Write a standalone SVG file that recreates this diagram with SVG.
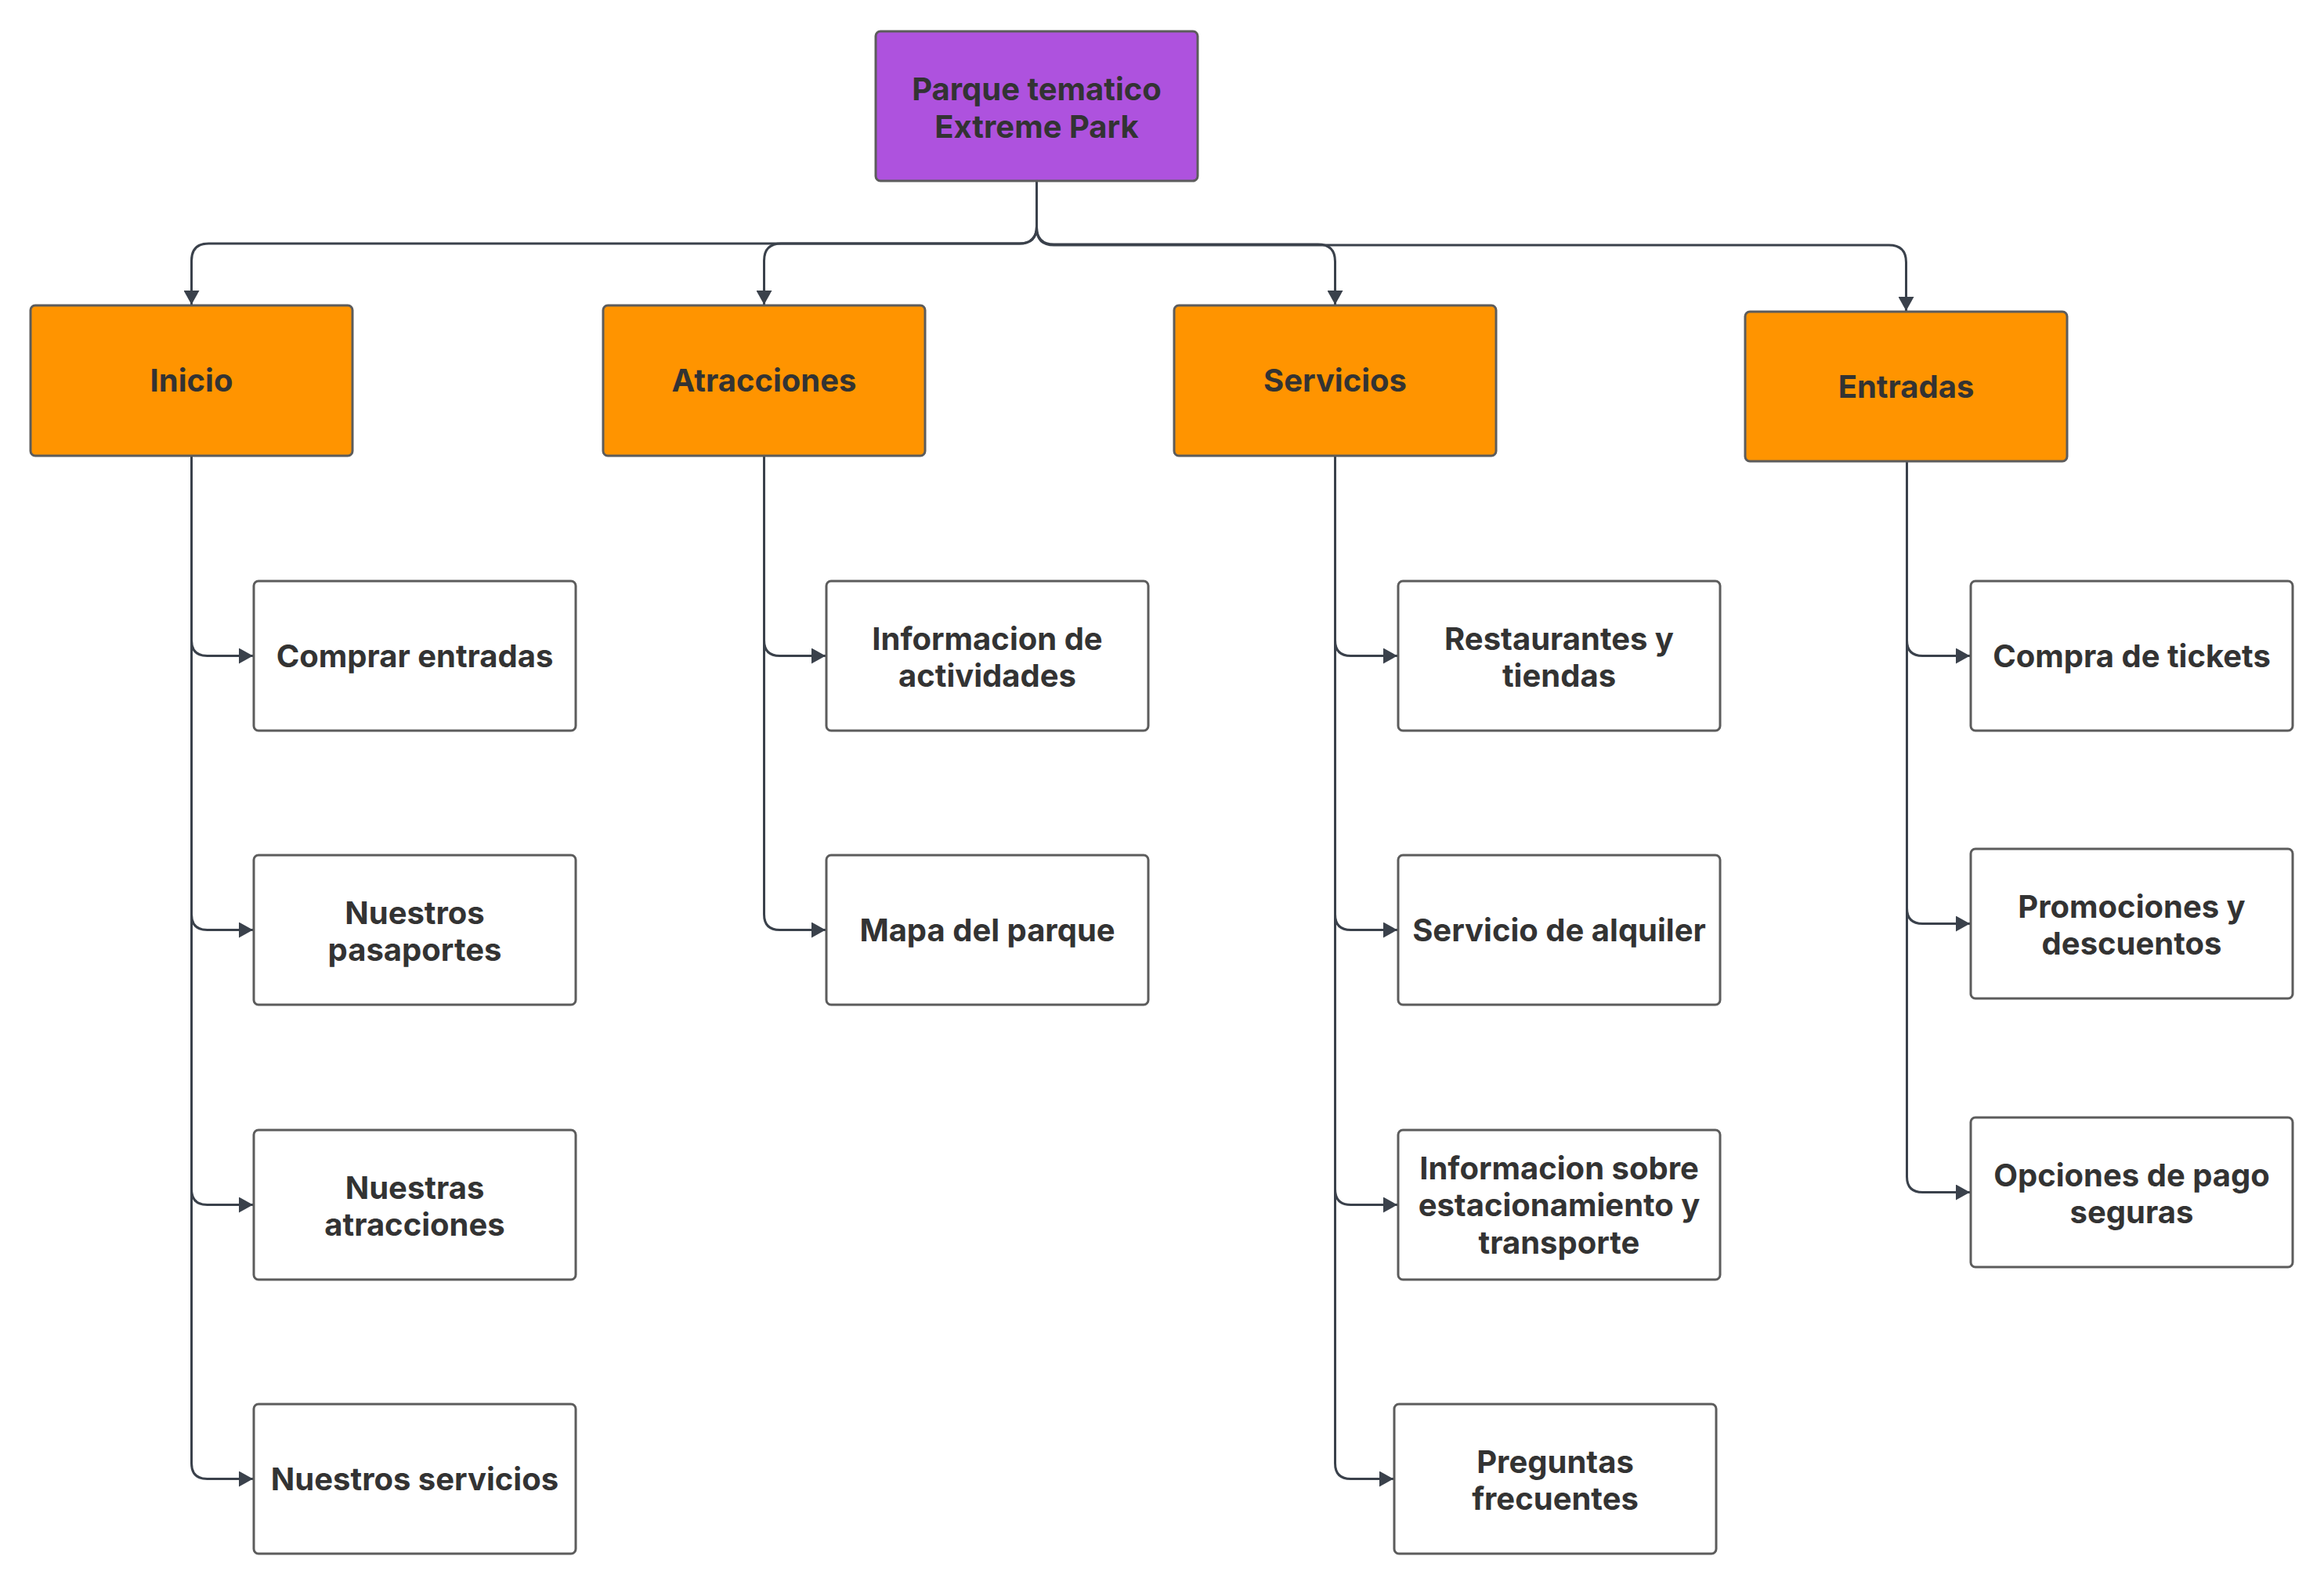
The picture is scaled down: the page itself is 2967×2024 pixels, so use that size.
<svg xmlns="http://www.w3.org/2000/svg" width="2967" height="2024" viewBox="0 0 2967 2024">
<style>
.box{stroke:#5c5c5c;stroke-width:3}
.root{fill:#ae52de}
.l1{fill:#ff9400}
.leaf{fill:#ffffff}
.t{font-family:Inter,"Liberation Sans",sans-serif;font-weight:700;font-size:40px;fill:#333333;text-anchor:middle}
.c{fill:none;stroke:#3a414b;stroke-width:3}
</style>
<defs>
<marker id="ah" markerUnits="userSpaceOnUse" markerWidth="20" markerHeight="20" refX="18" refY="10" orient="auto" viewBox="0 0 20 20">
<path d="M0,0 L18,10 L0,20 Z" fill="#3a414b"/>
</marker>
</defs>
<rect width="2967" height="2024" fill="#ffffff"/>
<g id="connectors">
<path class="c" marker-end="url(#ah)" d="M1323.5 231 V289 Q1323.5 311 1301.5 311 H266.5 Q244.5 311 244.5 333 V389"/>
<path class="c" marker-end="url(#ah)" d="M1323.5 231 V289 Q1323.5 311 1301.5 311 H997.5 Q975.5 311 975.5 333 V389"/>
<path class="c" marker-end="url(#ah)" d="M1323.5 231 V290 Q1323.5 312 1345.5 312 H1682.5 Q1704.5 312 1704.5 334 V389"/>
<path class="c" marker-end="url(#ah)" d="M1323.5 231 V291 Q1323.5 313 1345.5 313 H2411.5 Q2433.5 313 2433.5 335 V397"/>
<path class="c" marker-end="url(#ah)" d="M244.5 582 V817.5 Q244.5 837.5 264.5 837.5 H323"/>
<path class="c" marker-end="url(#ah)" d="M244.5 582 V1167.5 Q244.5 1187.5 264.5 1187.5 H323"/>
<path class="c" marker-end="url(#ah)" d="M244.5 582 V1518.5 Q244.5 1538.5 264.5 1538.5 H323"/>
<path class="c" marker-end="url(#ah)" d="M244.5 582 V1868.5 Q244.5 1888.5 264.5 1888.5 H323"/>
<path class="c" marker-end="url(#ah)" d="M975.5 582 V817.5 Q975.5 837.5 995.5 837.5 H1054"/>
<path class="c" marker-end="url(#ah)" d="M975.5 582 V1167.5 Q975.5 1187.5 995.5 1187.5 H1054"/>
<path class="c" marker-end="url(#ah)" d="M1704.5 582 V817.5 Q1704.5 837.5 1724.5 837.5 H1784"/>
<path class="c" marker-end="url(#ah)" d="M1704.5 582 V1167.5 Q1704.5 1187.5 1724.5 1187.5 H1784"/>
<path class="c" marker-end="url(#ah)" d="M1704.5 582 V1518.5 Q1704.5 1538.5 1724.5 1538.5 H1784"/>
<path class="c" marker-end="url(#ah)" d="M1704.5 582 V1868.5 Q1704.5 1888.5 1724.5 1888.5 H1779"/>
<path class="c" marker-end="url(#ah)" d="M2434.5 589 V817.5 Q2434.5 837.5 2454.5 837.5 H2515"/>
<path class="c" marker-end="url(#ah)" d="M2434.5 589 V1159.5 Q2434.5 1179.5 2454.5 1179.5 H2515"/>
<path class="c" marker-end="url(#ah)" d="M2434.5 589 V1502.5 Q2434.5 1522.5 2454.5 1522.5 H2515"/>
</g>
<g id="root"><rect class="box root" x="1118" y="40" width="411" height="191" rx="6"/><text class="t" x="1323.5" y="128">Parque tematico</text><text class="t" x="1323.5" y="176">Extreme Park</text></g>
<g id="inicio"><rect class="box l1" x="39" y="390" width="411" height="192" rx="6"/><text class="t" x="244.5" y="500">Inicio</text></g>
<g id="atracciones"><rect class="box l1" x="770" y="390" width="411" height="192" rx="6"/><text class="t" x="975.5" y="500">Atracciones</text></g>
<g id="servicios"><rect class="box l1" x="1499" y="390" width="411" height="192" rx="6"/><text class="t" x="1704.5" y="500">Servicios</text></g>
<g id="entradas"><rect class="box l1" x="2228" y="398" width="411" height="191" rx="6"/><text class="t" x="2433.5" y="507.5">Entradas</text></g>
<g id="comprar-entradas"><rect class="box leaf" x="324" y="742" width="411" height="191" rx="6"/><text class="t" x="529.5" y="851.5">Comprar entradas</text></g>
<g id="nuestros-pasaportes"><rect class="box leaf" x="324" y="1092" width="411" height="191" rx="6"/><text class="t" x="529.5" y="1179.5">Nuestros</text><text class="t" x="529.5" y="1227">pasaportes</text></g>
<g id="nuestras-atracciones"><rect class="box leaf" x="324" y="1443" width="411" height="191" rx="6"/><text class="t" x="529.5" y="1530.5">Nuestras</text><text class="t" x="529.5" y="1578">atracciones</text></g>
<g id="nuestros-servicios"><rect class="box leaf" x="324" y="1793" width="411" height="191" rx="6"/><text class="t" x="529.5" y="1902.5">Nuestros servicios</text></g>
<g id="info-actividades"><rect class="box leaf" x="1055" y="742" width="411" height="191" rx="6"/><text class="t" x="1260.5" y="829.5">Informacion de</text><text class="t" x="1260.5" y="877">actividades</text></g>
<g id="mapa-parque"><rect class="box leaf" x="1055" y="1092" width="411" height="191" rx="6"/><text class="t" x="1260.5" y="1201.5">Mapa del parque</text></g>
<g id="restaurantes"><rect class="box leaf" x="1785" y="742" width="411" height="191" rx="6"/><text class="t" x="1990.5" y="829.5">Restaurantes y</text><text class="t" x="1990.5" y="877">tiendas</text></g>
<g id="servicio-alquiler"><rect class="box leaf" x="1785" y="1092" width="411" height="191" rx="6"/><text class="t" x="1990.5" y="1201.5">Servicio de alquiler</text></g>
<g id="info-estacionamiento"><rect class="box leaf" x="1785" y="1443" width="411" height="191" rx="6"/><text class="t" x="1990.5" y="1505.5">Informacion sobre</text><text class="t" x="1990.5" y="1553">estacionamiento y</text><text class="t" x="1990.5" y="1600.5">transporte</text></g>
<g id="preguntas"><rect class="box leaf" x="1780" y="1793" width="411" height="191" rx="6"/><text class="t" x="1985.5" y="1880.5">Preguntas</text><text class="t" x="1985.5" y="1928">frecuentes</text></g>
<g id="compra-tickets"><rect class="box leaf" x="2516" y="742" width="411" height="191" rx="6"/><text class="t" x="2721.5" y="851.5">Compra de tickets</text></g>
<g id="promociones"><rect class="box leaf" x="2516" y="1084" width="411" height="191" rx="6"/><text class="t" x="2721.5" y="1171.5">Promociones y</text><text class="t" x="2721.5" y="1219">descuentos</text></g>
<g id="opciones-pago"><rect class="box leaf" x="2516" y="1427" width="411" height="191" rx="6"/><text class="t" x="2721.5" y="1514.5">Opciones de pago</text><text class="t" x="2721.5" y="1562">seguras</text></g>
</svg>
